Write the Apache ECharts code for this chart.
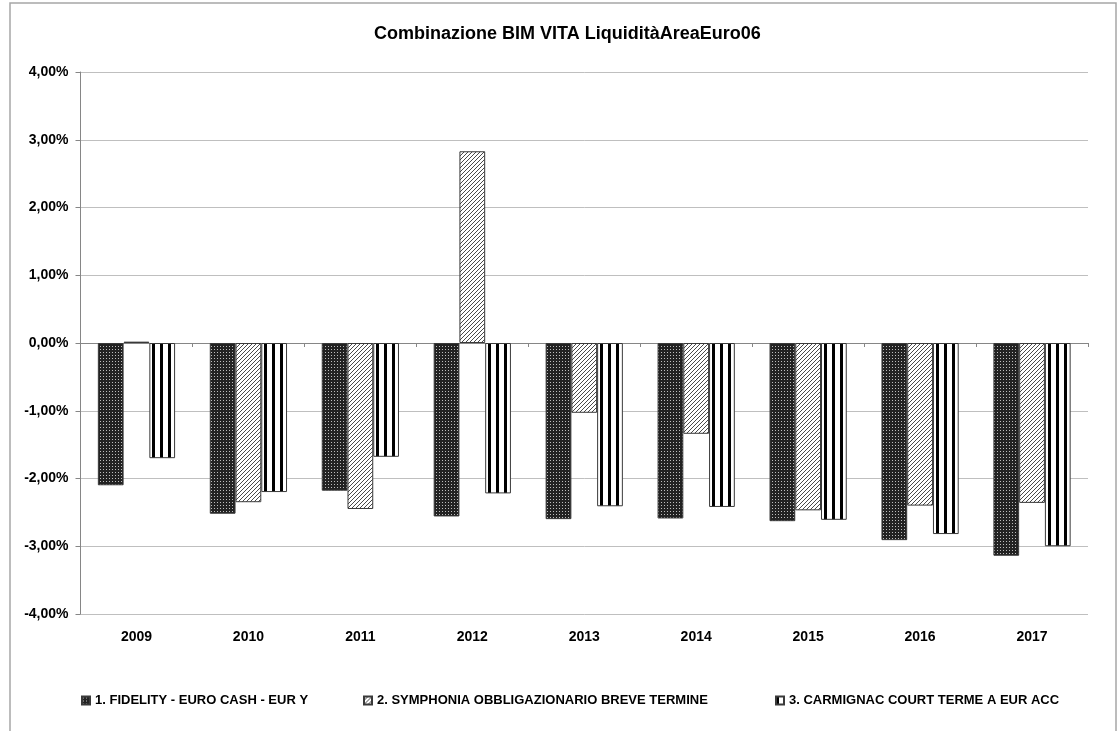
<!DOCTYPE html>
<html>
<head>
<meta charset="utf-8">
<script src="https://cdn.jsdelivr.net/npm/echarts@6/dist/echarts.min.js"></script>
<style>
html,body{margin:0;padding:0;background:#fff;}
#chart{width:1120px;height:731px;}
</style>
</head>
<body>
<div id="chart"></div>
<script>
const titleText = 'Combinazione BIM VITA LiquiditàAreaEuro06';
const categories = ['2009','2010','2011','2012','2013','2014','2015','2016','2017'];
const seriesNames = [
  '1. FIDELITY - EURO CASH - EUR Y',
  '2. SYMPHONIA OBBLIGAZIONARIO BREVE TERMINE',
  '3. CARMIGNAC COURT TERME A EUR ACC'
];
const fidelity   = [-2.10, -2.52, -2.18, -2.56, -2.60, -2.59, -2.63, -2.91, -3.14];
const symphonia  = [ 0.02, -2.35, -2.45,  2.83, -1.03, -1.34, -2.47, -2.40, -2.36];
const carmignac  = [-1.70, -2.20, -1.68, -2.22, -2.41, -2.42, -2.61, -2.82, -3.00];
const yTicks = { min: -4, max: 4, interval: 1 };

function makePattern(kind) {
  const c = document.createElement('canvas');
  const ctx = c.getContext('2d');
  if (kind === 'dots') {
    c.width = 3; c.height = 3;
    ctx.fillStyle = '#222222'; ctx.fillRect(0,0,3,3);
    ctx.fillStyle = '#bdbdbd'; ctx.fillRect(1,1,1,1);
  } else if (kind === 'diag') {
    c.width = 4; c.height = 4;
    ctx.fillStyle = '#ffffff'; ctx.fillRect(0,0,4,4);
    ctx.fillStyle = '#4a4a4a';
    for (let i = 0; i < 4; i++) ctx.fillRect(i, 3 - i, 1, 1);
  } else {
    c.width = 8; c.height = 4;
    ctx.fillStyle = '#ffffff'; ctx.fillRect(0,0,8,4);
    ctx.fillStyle = '#000000'; ctx.fillRect(0,0,3,4);
  }
  return { image: c, repeat: 'repeat' };
}

const font = '"Liberation Sans", Arial, sans-serif';
const chart = echarts.init(document.getElementById('chart'), null, { renderer: 'canvas' });

function bar(name, data, kind) {
  return {
    name: name, type: 'bar', data: data,
    xAxisIndex: 0,
    barGap: '0%', barCategoryGap: '31%',
    itemStyle: { color: makePattern(kind), borderColor: '#3a3a3a', borderWidth: 1 },
    emphasis: { disabled: true }
  };
}

const legendLefts = [76, 358, 770];
const legendText = { fontFamily: font, fontWeight: 'bold', fontSize: 13, color: '#000' };

chart.setOption({
  animation: false,
  backgroundColor: '#ffffff',
  graphic: [{
    type: 'rect', shape: { x: 10, y: 3, width: 1106, height: 760 },
    style: { fill: 'none', stroke: '#a6a6a6', lineWidth: 1.5 }, silent: true, z: -1
  }],
  title: {
    text: titleText, left: 369, top: 20,
    textStyle: { fontFamily: font, fontWeight: 'bold', fontSize: 18, color: '#000' }
  },
  grid: { left: 80.5, right: 32, top: 72, bottom: 117, containLabel: false },
  legend: seriesNames.map((n, i) => ({
    left: legendLefts[i], top: 689, itemWidth: 8, itemHeight: 8, itemGap: 4, icon: 'rect',
    selectedMode: false, textStyle: legendText, data: [n]
  })),
  xAxis: [{
    type: 'category', data: categories, position: 'bottom',
    axisLine: { onZero: true, lineStyle: { color: '#868686', width: 1 } },
    axisTick: { show: true, length: 4, lineStyle: { color: '#868686' } },
    axisLabel: { show: false }, splitLine: { show: false }
  }, {
    type: 'category', data: categories, position: 'bottom',
    axisLine: { show: false, onZero: false }, axisTick: { show: false },
    axisLabel: { show: true, margin: 16, fontFamily: font, fontWeight: 'bold', fontSize: 14, color: '#000' },
    splitLine: { show: false }
  }],
  yAxis: {
    type: 'value', min: yTicks.min, max: yTicks.max, interval: yTicks.interval,
    axisLine: { show: true, lineStyle: { color: '#868686' } },
    axisTick: { show: true, length: 5, lineStyle: { color: '#868686' } },
    axisLabel: {
      margin: 12, fontFamily: font, fontWeight: 'bold', fontSize: 14, color: '#000',
      formatter: v => (Math.abs(v) < 1e-9 ? 0 : v).toFixed(2).replace('.', ',') + '%'
    },
    splitLine: { show: true, lineStyle: { color: '#bfbfbf', width: 1 } }
  },
  series: [
    bar(seriesNames[0], fidelity, 'dots'),
    bar(seriesNames[1], symphonia, 'diag'),
    bar(seriesNames[2], carmignac, 'vert')
  ]
});
</script>
</body>
</html>
